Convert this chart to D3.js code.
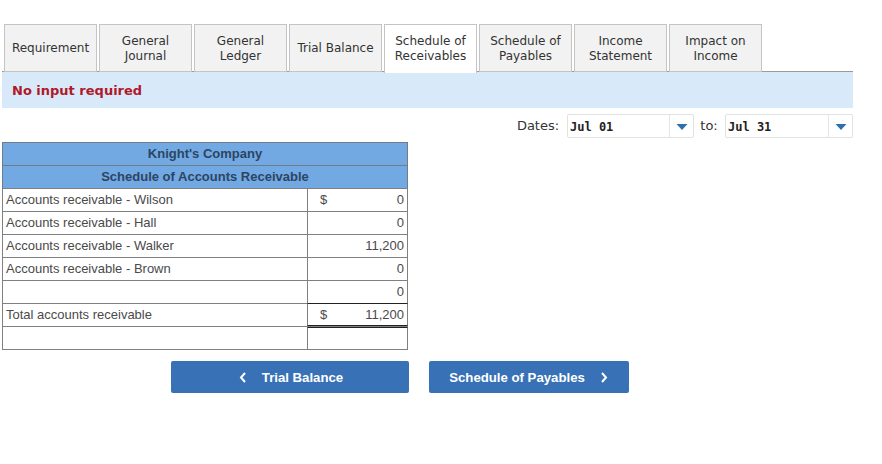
<!DOCTYPE html>
<html>
<head>
<meta charset="utf-8">
<script src="https://cdnjs.cloudflare.com/ajax/libs/d3/7.8.5/d3.min.js"></script>
<style>
    html, body { margin: 0; padding: 0; background: #fff; }
    svg { display: block; }
    .tab { font-family: "DejaVu Sans", Verdana, sans-serif; font-size: 12px; fill: #333; text-anchor: middle; }
    .date-label { font-family: "DejaVu Sans", Verdana, sans-serif; font-size: 13px; fill: #333; text-anchor: middle; }
    .cell { font-family: "Liberation Sans", Arial, sans-serif; font-size: 13px; fill: #4a4a4a; }
    .head { font-family: "Liberation Sans", Arial, sans-serif; font-size: 13px; font-weight: bold; fill: #2b4563; text-anchor: middle; }
    .btn { font-family: "Liberation Sans", Arial, sans-serif; font-size: 13.2px; font-weight: bold; fill: #fff; text-anchor: middle; }
</style>
</head>
<body>
<svg width="882" height="464"></svg>
<script>
let tabs = [["Requirement"], ["General", "Journal"], ["General", "Ledger"], ["Trial Balance"],
    ["Schedule of", "Receivables"], ["Schedule of", "Payables"], ["Income", "Statement"], ["Impact on", "Income"]];
let activeTab = 4;
let message = "No input required";
let dateFrom = "Jul 01";
let dateTo = "Jul 31";
let company = "Knight's Company";
let title = "Schedule of Accounts Receivable";
let rowLabels = ["Accounts receivable - Wilson", "Accounts receivable - Hall", "Accounts receivable - Walker",
    "Accounts receivable - Brown", "", "Total accounts receivable", ""];
let rowValues = [0, 0, 11200, 0, 0, 11200, null];
let rowDollar = [true, false, false, false, false, true, false];
let prevLabel = "Trial Balance";
let nextLabel = "Schedule of Payables";

let svg = d3.select("svg");
let fmt = d3.format(",");

// tabs
let tabStep = 95;
let tabW = 92;

// band under the tabs
svg.append("rect").attr("x", 2).attr("y", 72).attr("width", 851).attr("height", 36).attr("fill", "#d8eafa");
svg.append("line").attr("x1", 2).attr("x2", 853).attr("y1", 71.5).attr("y2", 71.5).attr("stroke", "#9a9a9a");

tabs.forEach(function (t, i) {
    let x = 4.5 + i * tabStep;
    let g = svg.append("g");
    g.append("rect")
        .attr("x", x).attr("y", 24.5)
        .attr("width", tabW).attr("height", i === activeTab ? 48 : 47)
        .attr("fill", i === activeTab ? "#fff" : "#f2f2f2")
        .attr("stroke", "#c4c4c4");
    if (i === activeTab) {
        g.append("rect").attr("x", x + 0.5).attr("y", 70).attr("width", tabW - 1).attr("height", 3).attr("fill", "#fff");
    }
    t.forEach(function (line, j) {
        g.append("text").attr("class", "tab")
            .attr("x", x + tabW / 2)
            .attr("y", t.length === 1 ? 52 : 45 + j * 15)
            .text(line);
    });
});

svg.append("text")
    .attr("x", 12).attr("y", 95)
    .attr("font-family", "'DejaVu Sans', Verdana, sans-serif")
    .attr("font-size", "13px").attr("font-weight", "bold").attr("fill", "#b0182b")
    .text(message);

// date pickers
function drawPicker(x, w, txt) {
    svg.append("rect").attr("x", x + 0.5).attr("y", 114.5).attr("width", w).attr("height", 23).attr("rx", 1.5)
        .attr("fill", "#fff").attr("stroke", "#e2e2e2");
    svg.append("line").attr("x1", x + w - 23.5).attr("x2", x + w - 23.5).attr("y1", 115).attr("y2", 137).attr("stroke", "#e6e6e6");
    svg.append("text").attr("x", x + 3).attr("y", 131)
        .attr("font-family", "'DejaVu Sans Mono', monospace").attr("font-weight", "bold")
        .attr("font-size", "12px").attr("fill", "#222").text(txt);
    let cx = x + w - 11;
    svg.append("path").attr("d", d3.line()([[cx - 5.5, 124], [cx + 5.5, 124], [cx, 130]]) + "Z").attr("fill", "#2f6fae");
}
svg.append("text").attr("class", "date-label").attr("x", 538).attr("y", 130).text("Dates:");
drawPicker(567, 126, dateFrom);
svg.append("text").attr("class", "date-label").attr("x", 709).attr("y", 130).text("to:");
drawPicker(725, 127, dateTo);

// table
let tableX = d3.scaleLinear().domain([0, 1]).range([2.5, 407.5]);
let colX = 307.5;
let tableY = d3.scaleLinear().domain([0, 9]).range([142.5, 349.5]);

[company, title].forEach(function (h, i) {
    svg.append("rect")
        .attr("x", tableX(0)).attr("y", tableY(i))
        .attr("width", tableX(1) - tableX(0)).attr("height", tableY(1) - tableY(0))
        .attr("fill", "#73a9e3").attr("stroke", "#6f7d8a");
    svg.append("text").attr("class", "head")
        .attr("x", 205).attr("y", tableY(i) + 15.5)
        .text(h);
});

rowLabels.forEach(function (label, i) {
    let y = tableY(i + 2);
    svg.append("rect")
        .attr("x", tableX(0)).attr("y", y)
        .attr("width", tableX(1) - tableX(0)).attr("height", tableY(1) - tableY(0))
        .attr("fill", "#fff").attr("stroke", "#808080");
    svg.append("line").attr("x1", colX).attr("x2", colX).attr("y1", y).attr("y2", y + 23).attr("stroke", "#808080");
    svg.append("text").attr("class", "cell").attr("x", 6).attr("y", y + 15.5).text(label);
    if (rowDollar[i]) {
        svg.append("text").attr("class", "cell").attr("x", 320).attr("y", y + 15.5).text("$");
    }
    if (rowValues[i] !== null) {
        svg.append("text").attr("class", "cell").attr("x", 404).attr("y", y + 15.5)
            .attr("text-anchor", "end").text(fmt(rowValues[i]));
    }
});

// total row: single line above, double line below
svg.append("line").attr("x1", colX).attr("x2", tableX(1)).attr("y1", tableY(7)).attr("y2", tableY(7)).attr("stroke", "#222");
svg.append("line").attr("x1", colX).attr("x2", tableX(1)).attr("y1", tableY(8) - 1).attr("y2", tableY(8) - 1).attr("stroke", "#222");
svg.append("line").attr("x1", colX).attr("x2", tableX(1)).attr("y1", tableY(8) + 1).attr("y2", tableY(8) + 1).attr("stroke", "#222");

// buttons
function drawButton(x, w, label, labelX, chevron) {
    svg.append("rect").attr("x", x).attr("y", 361).attr("width", w).attr("height", 32).attr("rx", 2).attr("fill", "#3871b6");
    svg.append("text").attr("class", "btn").attr("x", labelX).attr("y", 382).text(label);
    svg.append("path").attr("d", d3.line()(chevron)).attr("fill", "none").attr("stroke", "#fff").attr("stroke-width", 2);
}
drawButton(171, 238, prevLabel, 302.5, [[245, 373], [241, 377.5], [245, 382]]);
drawButton(429, 200, nextLabel, 517, [[602, 373], [606, 377.5], [602, 382]]);
</script>
</body>
</html>
